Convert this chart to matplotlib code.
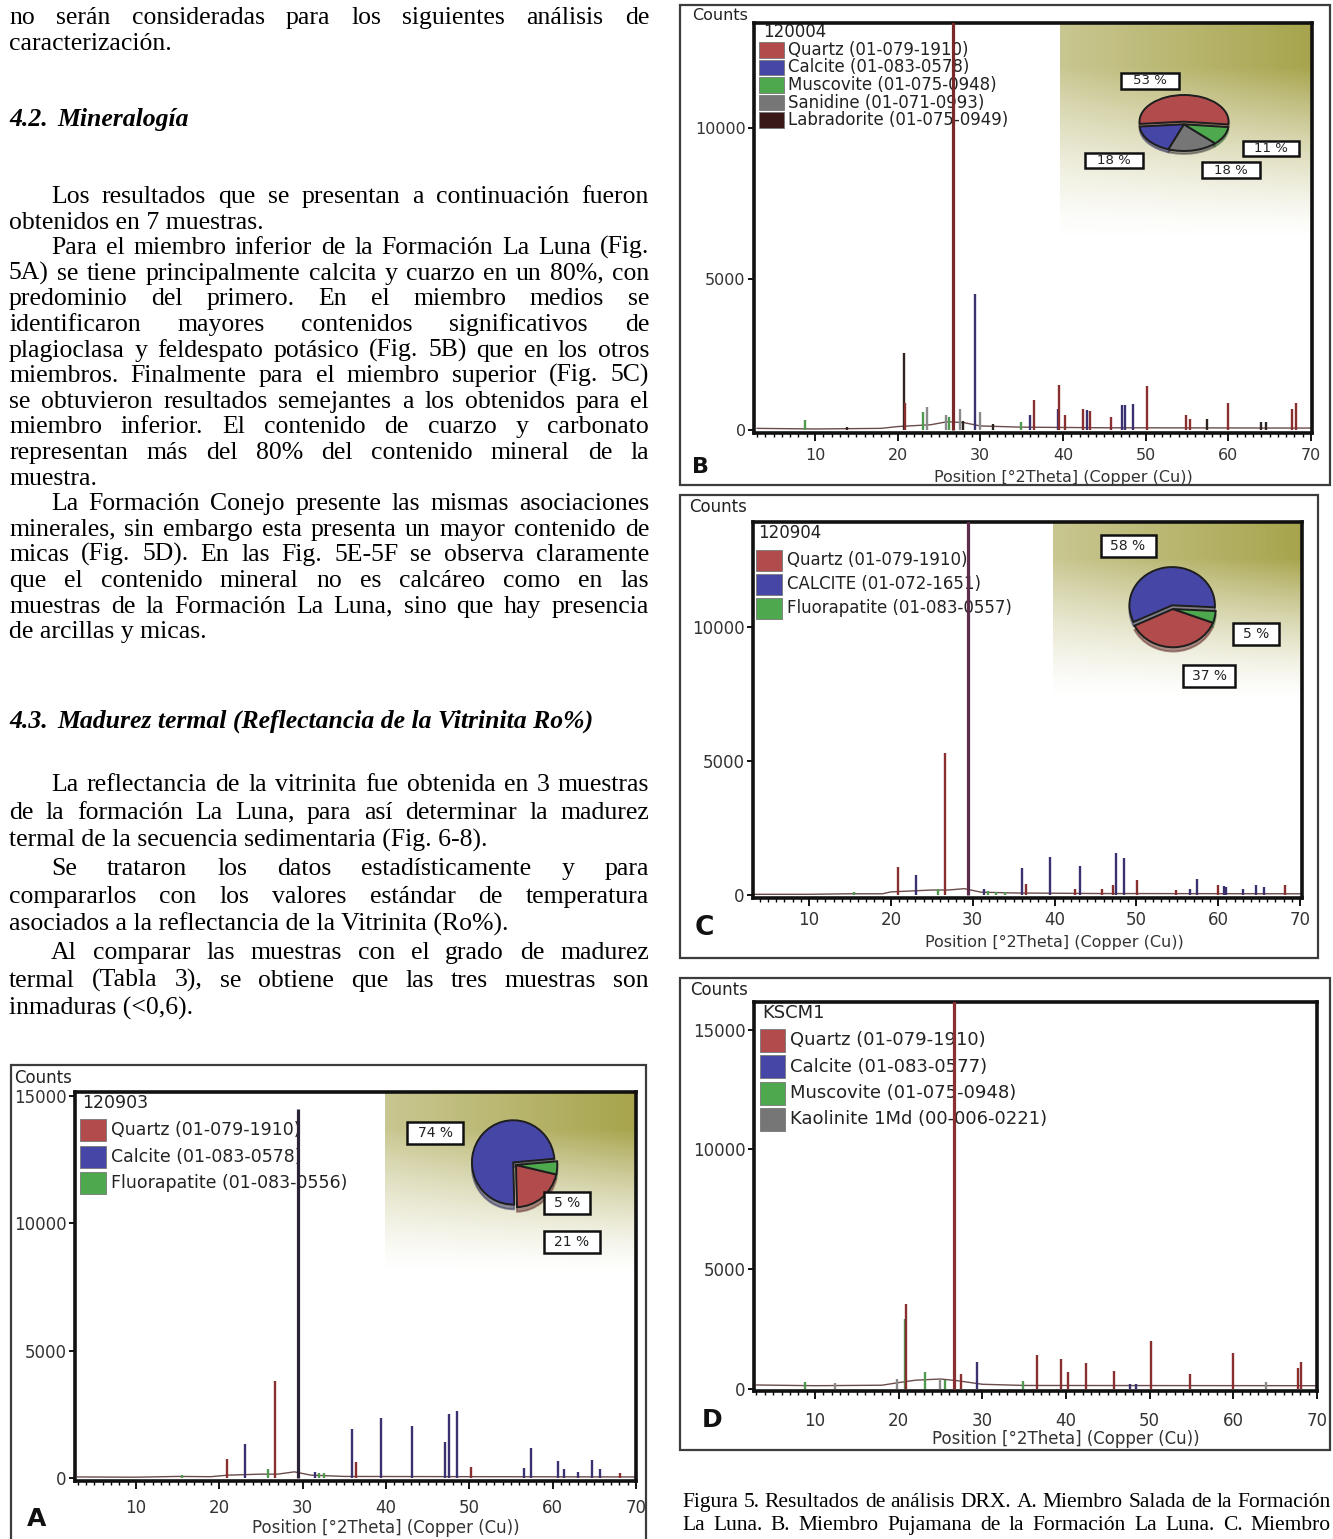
import numpy as np
import matplotlib
matplotlib.use("Agg")
import matplotlib.pyplot as plt
from matplotlib.patches import Rectangle
from matplotlib.ticker import MultipleLocator, FixedLocator, FuncFormatter
from matplotlib.font_manager import FontProperties

W, H = 1333, 1539

# ---------------- colours ----------------
QUARTZ = '#b24c4c'
CALCITE = '#4646a6'
GREEN = '#4ea84e'
GREY = '#767676'
LABRA = '#3b1818'
PEAK = {'q': '#8a2f2f', 'c': '#3a3270', 'g': '#4f9a4f', 'k': '#8a8a8a', 'd': '#2e2420'}

# ---------------- data: panel B (120004) ----------------
b_name = '120004'
b_phases = ['Quartz (01-079-1910)', 'Calcite (01-083-0578)', 'Muscovite (01-075-0948)',
            'Sanidine (01-071-0993)', 'Labradorite (01-075-0949)']
b_colors = [QUARTZ, CALCITE, GREEN, GREY, LABRA]
b_pie = [53, 18, 18, 11]
b_pie_colors = [QUARTZ, CALCITE, GREY, GREEN]
b_q_pos = [20.86, 26.64, 36.54, 39.46, 40.29, 42.45, 43.3, 45.79, 50.14, 54.87, 55.32, 59.96, 67.74, 68.14]
b_q_cnt = [900, 14000, 990, 1500, 500, 715, 630, 440, 1460, 500, 385, 910, 715, 910]
b_c_pos = [29.41, 36.0, 39.4, 42.9, 47.12, 47.51, 48.52]
b_c_cnt = [4500, 500, 700, 660, 825, 825, 850]
b_g_pos = [8.84, 23.1, 26.2, 34.9]
b_g_cnt = [330, 600, 450, 275]
b_k_pos = [23.5, 25.8, 27.5, 29.9]
b_k_cnt = [770, 500, 700, 600]
b_d_pos = [13.9, 20.8, 27.9, 31.5, 57.4, 63.9, 64.5]
b_d_cnt = [110, 2560, 300, 220, 360, 275, 275]
b_base_x = [3, 10, 18, 20, 24, 26, 28, 30, 35, 45, 70]
b_base_y = [60, 40, 60, 120, 180, 280, 250, 140, 100, 80, 70]

# ---------------- data: panel C (120904) ----------------
c_name = '120904'
c_phases = ['Quartz (01-079-1910)', 'CALCITE (01-072-1651)', 'Fluorapatite (01-083-0557)']
c_colors = [QUARTZ, CALCITE, GREEN]
c_pie = [58, 37, 5]
c_pie_colors = [CALCITE, QUARTZ, GREEN]
c_q_pos = [20.86, 26.64, 36.54, 42.45, 45.79, 47.1, 50.14, 54.87, 59.96, 68.14]
c_q_cnt = [1060, 5300, 440, 250, 250, 375, 560, 190, 375, 375]
c_c_pos = [23.06, 29.41, 31.44, 35.97, 39.42, 43.16, 47.51, 48.52, 56.57, 57.41, 60.68, 61.0, 63.08, 64.68, 65.62]
c_c_cnt = [750, 14500, 250, 1025, 1440, 1100, 1560, 1375, 250, 625, 350, 300, 250, 400, 310]
c_g_pos = [15.5, 25.8, 31.9, 32.9, 34.0]
c_g_cnt = [120, 250, 150, 130, 110]
c_base_x = [3, 10, 15, 19, 20, 25, 27, 29, 31, 35, 45, 70]
c_base_y = [40, 40, 60, 60, 130, 200, 200, 250, 120, 90, 70, 60]

# ---------------- data: panel D (KSCM1) ----------------
d_name = 'KSCM1'
d_phases = ['Quartz (01-079-1910)', 'Calcite (01-083-0577)', 'Muscovite (01-075-0948)',
            'Kaolinite 1Md (00-006-0221)']
d_colors = [QUARTZ, CALCITE, GREEN, GREY]
d_q_pos = [20.86, 26.64, 27.45, 36.54, 39.46, 40.29, 42.45, 45.79, 50.14, 54.87, 59.96, 67.74, 68.14]
d_q_cnt = [3550, 17000, 630, 1410, 1240, 700, 1060, 730, 1970, 630, 1480, 845, 1100]
d_c_pos = [29.41, 47.6, 48.4]
d_c_cnt = [1130, 210, 200]
d_g_pos = [8.84, 20.8, 23.1, 25.5, 34.9]
d_g_cnt = [280, 2900, 700, 350, 310]
d_k_pos = [12.4, 19.8, 24.9, 63.9]
d_k_cnt = [240, 420, 420, 280]
d_base_x = [3, 10, 18, 20, 22, 25, 27, 30, 35, 70]
d_base_y = [150, 120, 140, 250, 350, 400, 330, 180, 130, 120]

# ---------------- data: panel A (120903) ----------------
a_name = '120903'
a_phases = ['Quartz (01-079-1910)', 'Calcite (01-083-0578)', 'Fluorapatite (01-083-0556)']
a_colors = [QUARTZ, CALCITE, GREEN]
a_pie = [74, 21, 5]
a_pie_colors = [CALCITE, QUARTZ, GREEN]
a_q_pos = [20.86, 26.64, 36.4, 50.14, 68.1]
a_q_cnt = [780, 3830, 650, 455, 200]
a_c_pos = [23.06, 29.41, 31.44, 35.97, 39.42, 43.16, 47.12, 47.51, 48.52, 56.57, 57.41, 60.68,
           61.35, 63.08, 64.68, 65.62]
a_c_cnt = [1360, 14500, 260, 1950, 2360, 2050, 1430, 2530, 2660, 415, 1195, 675, 390, 235, 740, 390]
a_g_pos = [15.5, 25.8, 31.9, 32.5]
a_g_cnt = [130, 390, 230, 200]
a_base_x = [3, 10, 15, 19, 21, 25, 27, 29, 31, 35, 70]
a_base_y = [60, 50, 80, 70, 130, 170, 170, 260, 130, 80, 60]

XTICKS = [10, 20, 30, 40, 50, 60, 70]
XLABEL = 'Position [°2Theta] (Copper (Cu))'

# ---------------- page text ----------------
body = [
    ('no serán consideradas para los siguientes análisis de', 'j'),
    ('caracterización.', 'l'),
    ('4.2.|Mineralogía', 'h'),
    ('Los resultados que se presentan a continuación fueron', 'ij'),
    ('obtenidos en 7 muestras.', 'l'),
    ('Para el miembro inferior de la Formación La Luna (Fig.', 'ij'),
    ('5A) se tiene principalmente calcita y cuarzo en un 80%, con', 'j'),
    ('predominio del primero. En el miembro medios se', 'j'),
    ('identificaron mayores contenidos significativos de', 'j'),
    ('plagioclasa y feldespato potásico (Fig. 5B) que en los otros', 'j'),
    ('miembros. Finalmente para el miembro superior (Fig. 5C)', 'j'),
    ('se obtuvieron resultados semejantes a los obtenidos para el', 'j'),
    ('miembro inferior. El contenido de cuarzo y carbonato', 'j'),
    ('representan más del 80% del contenido mineral de la', 'j'),
    ('muestra.', 'l'),
    ('La Formación Conejo presente las mismas asociaciones', 'ij'),
    ('minerales, sin embargo esta presenta un mayor contenido de', 'j'),
    ('micas (Fig. 5D). En las Fig. 5E-5F se observa claramente', 'j'),
    ('que el contenido mineral no es calcáreo como en las', 'j'),
    ('muestras de la Formación La Luna, sino que hay presencia', 'j'),
    ('de arcillas y micas.', 'l'),
    ('4.3.|Madurez termal (Reflectancia de la Vitrinita Ro%)', 'h'),
    ('La reflectancia de la vitrinita fue obtenida en 3 muestras', 'ij'),
    ('de la formación La Luna, para así determinar la madurez', 'j'),
    ('termal de la secuencia sedimentaria (Fig. 6-8).', 'l'),
    ('Se trataron los datos estadísticamente y para', 'ij'),
    ('compararlos con los valores estándar de temperatura', 'j'),
    ('asociados a la reflectancia de la Vitrinita (Ro%).', 'l'),
    ('Al comparar las muestras con el grado de madurez', 'ij'),
    ('termal (Tabla 3), se obtiene que las tres muestras son', 'j'),
    ('inmaduras (<0,6).', 'l'),
]
body_y = [16, 42, 118, 195, 221, 246, 272, 297, 323, 349, 374, 400, 425, 451, 477, 502,
          528, 553, 579, 605, 630, 720, 783, 811, 839, 867, 895, 923, 951, 979, 1007]
caption = ['Figura 5. Resultados de análisis DRX. A. Miembro Salada de la Formación',
           'La Luna. B. Miembro Pujamana de la Formación La Luna. C. Miembro']
caption_y = [1501, 1524]

# ---------------- figure ----------------
fig = plt.figure(figsize=(W / 100, H / 100), dpi=100)
fig.patch.set_facecolor('white')
renderer = fig.canvas.get_renderer()


def fx(px):
    return px / W


def fy(py):
    return 1 - py / H


def add_ax_px(left, top, right, bottom):
    return fig.add_axes([left / W, 1 - bottom / H, (right - left) / W, (bottom - top) / H])


def word_w(s, fp):
    w, h, d = renderer.get_text_width_height_descent(s, fp, ismath=False)
    return w


def put_line(s, x0, x1, y, justify, indent, size, style='normal', weight='normal'):
    fp = FontProperties(family='Liberation Serif', size=size, style=style, weight=weight)
    base = y + 0.30 * size * 100 / 72
    kw = dict(fontproperties=fp, va='baseline', ha='left', color='black')
    x = x0 + indent
    words = s.split(' ')
    if not justify or len(words) == 1:
        fig.text(fx(x), fy(base), s, **kw)
        return
    widths = [word_w(w_, fp) for w_ in words]
    gap = (x1 - x - sum(widths)) / (len(words) - 1)
    for w_, ww in zip(words, widths):
        fig.text(fx(x), fy(base), w_, **kw)
        x += ww + gap


# left column text
TX0, TX1, INDENT, TSIZE = 9, 649, 42, 18.5
for (s, kind), y in zip(body, body_y):
    if kind == 'h':
        num, title = s.split('|')
        put_line(num, TX0, TX1, y, False, 0, TSIZE, 'italic', 'bold')
        put_line(title, TX0, TX1, y, False, 48, TSIZE, 'italic', 'bold')
    else:
        put_line(s, TX0, TX1, y, 'j' in kind, INDENT if 'i' in kind else 0, TSIZE)

for s, y in zip(caption, caption_y):
    put_line(s, 682, 1331, y, True, 0, 15.5)


# ---------------- XRD panels ----------------
def olive_gradient(ax, box, g):
    L, T, R, B = box
    gx0, gy0, gx1, gy1 = g
    ny, nx = 120, 80
    t = np.linspace(1, 0, ny)[:, None]
    s = np.linspace(0, 1, nx)[None, :]
    v = np.clip(t * 1.25, 0, 1) ** 1.4
    alpha = v * (0.62 + 0.38 * s)
    img = np.zeros((ny, nx, 4))
    img[..., 0], img[..., 1], img[..., 2] = 0.655, 0.645, 0.30
    img[..., 3] = alpha
    ext = ((gx0 - L) / (R - L), (gx1 - L) / (R - L), (B - gy1) / (B - T), (B - gy0) / (B - T))
    ax.imshow(img, extent=ext, transform=ax.transAxes, aspect='auto', zorder=0,
              interpolation='bilinear')


def draw_panel(g, series, base_x, base_y, name, phases, colors):
    ox0, oy0, ox1, oy1 = g['outer']
    fig.add_artist(Rectangle((fx(ox0), fy(oy1)), (ox1 - ox0) / W, (oy1 - oy0) / H,
                             transform=fig.transFigure, fill=False, ec='#3c3c3c', lw=1.6))
    fig.text(fx(g['counts'][0]), fy(g['counts'][1]), 'Counts', fontsize=g['fs_tick'],
             family='DejaVu Sans', va='center', ha='left', color='#222222')
    fig.text(fx(g['letter'][0]), fy(g['letter'][1]), g['label'], fontsize=g['fs_letter'],
             family='DejaVu Sans', weight='bold', va='center', ha='center', color='#111111')
    fig.text(fx((g['x10'] + g['x70']) / 2), fy(g['xlab_y']), XLABEL, fontsize=g['fs_xlab'],
             family='DejaVu Sans', va='center', ha='center', color='#333333')

    L, T, R, B = g['inner']
    ax = add_ax_px(L, T, R, B)
    ax.set_zorder(2)
    per = (g['x70'] - g['x10']) / 60
    xlo = 10 - (g['x10'] - L) / per
    xhi = 70 + (R - g['x70']) / per
    cpp = 5000 / g['ystep']
    ylo = -(B - g['y0']) * cpp - 60
    yhi = (g['y0'] - T) * cpp

    if g.get('grad'):
        olive_gradient(ax, g['inner'], g['grad'])

    ax.plot(base_x, base_y, color='#6b4b4b', lw=1.0, zorder=2)
    top = max(max(cnt) for _, cnt, _ in series)
    for pos, cnt, key in series:
        for p, c in zip(pos, cnt):
            if c == top:
                ax.vlines(p, 0, c, colors=g['main_color'], lw=2.3, zorder=3.5)
            else:
                ax.vlines(p, 0, c, colors=PEAK[key], lw=1.7, zorder=3)

    ax.set_xlim(xlo, xhi)
    ax.set_ylim(ylo, yhi)
    ax.xaxis.set_major_locator(FixedLocator(XTICKS))
    ax.xaxis.set_minor_locator(MultipleLocator(1))
    ax.yaxis.set_major_locator(MultipleLocator(5000))
    ax.yaxis.set_major_formatter(FuncFormatter(lambda v, p: f'{int(v)}'))
    ax.tick_params(axis='x', which='major', length=6, width=1.3, direction='out',
                   pad=g['xpad'], labelsize=g['fs_tick'], labelcolor='#333333')
    ax.tick_params(axis='x', which='minor', length=3, width=1.0, direction='out')
    ax.tick_params(axis='y', which='major', length=4, width=1.3, direction='out', pad=2,
                   labelsize=g['fs_tick'], labelcolor='#333333')
    for lab in ax.get_xticklabels() + ax.get_yticklabels():
        lab.set_family('DejaVu Sans')
    for sp in ax.spines.values():
        sp.set_linewidth(2.6)
        sp.set_color('#111111')

    # legend
    def ax_xy(x, y):
        return (x - L) / (R - L), (B - y) / (B - T)

    nx_, ny_ = ax_xy(*g['name_xy'])
    ax.text(nx_, ny_, name, transform=ax.transAxes, fontsize=g['fs_leg'], family='DejaVu Sans',
            va='center', ha='left', color='#222222', zorder=2.5)
    px0, pw, ph, tx = g['patch']
    for i, (ph_name, col) in enumerate(zip(phases, colors)):
        yy = g['row0'] + i * g['rowstep']
        ax0, ay0 = ax_xy(px0, yy + ph / 2)
        ax.add_patch(Rectangle((ax0, ay0), pw / (R - L), ph / (B - T), transform=ax.transAxes,
                               fc=col, ec='#777777', lw=0.6, zorder=2.5))
        tx_, ty_ = ax_xy(tx, yy)
        ax.text(tx_, ty_, ph_name, transform=ax.transAxes, fontsize=g['fs_leg'],
                family='DejaVu Sans', va='center', ha='left', color='#222222', zorder=2.5)
    return ax


def draw_pie(p, values, colors, labels_xy):
    cx, cy, rx, ry = p['center'][0], p['center'][1], p['rx'], p['ry']
    pax = add_ax_px(cx - rx, cy - ry, cx + rx, cy + ry)
    pax.set_zorder(4)
    explode = [p['explode'] if i == p['out'] else 0 for i in range(len(values))]
    pax.pie(values, colors=colors, startangle=p['start'], explode=explode,
            wedgeprops=dict(edgecolor='#1e1e1e', linewidth=1.4),
            shadow={'ox': 0.0, 'oy': -0.08, 'shade': 0.45})
    lim = 1 + p['explode']
    pax.set_aspect('auto')
    pax.set_xlim(-lim, lim)
    pax.set_ylim(-lim - 0.05, lim)
    pax.axis('off')
    for (x, y, bw, bh), v in zip(labels_xy, p['label_vals']):
        fig.add_artist(Rectangle((fx(x - bw / 2), fy(y + bh / 2)), bw / W, bh / H,
                                 transform=fig.transFigure, fc='white', ec='#111111',
                                 lw=1.8, zorder=6))
        fig.text(fx(x), fy(y), f'{v} %', fontsize=p['fs'], family='DejaVu Sans',
                 va='center', ha='center', color='#222222', zorder=7)


geoB = dict(outer=(680, 5, 1330, 485), inner=(754, 23, 1312, 433), x10=815, x70=1311,
            y0=432, ystep=152, counts=(692, 16), letter=(700, 467), label='B', xlab_y=477,
            xpad=5, fs_tick=11.5, fs_xlab=11.5, fs_letter=16, fs_leg=12, name_xy=(763, 32),
            row0=50, rowstep=17.5, patch=(759, 25, 15, 788), grad=(1060, 23, 1312, 240),
            main_color='#7a2828')
geoC = dict(outer=(680, 495, 1318, 958), inner=(753, 522, 1302, 898), x10=809, x70=1300,
            y0=897, ystep=135, counts=(689, 507), letter=(704, 928), label='C', xlab_y=942,
            xpad=3.5, fs_tick=12, fs_xlab=11.5, fs_letter=19, fs_leg=12, name_xy=(758, 533),
            row0=560, rowstep=24, patch=(756, 26, 21, 787), grad=(1053, 522, 1302, 700),
            main_color='#5c2c4c')
geoD = dict(outer=(680, 978, 1330, 1450), inner=(754, 1002, 1317, 1391), x10=815, x70=1317,
            y0=1390, ystep=120, counts=(690, 990), letter=(712, 1420), label='D', xlab_y=1439,
            xpad=9, fs_tick=12, fs_xlab=12, fs_letter=18, fs_leg=13, name_xy=(762, 1013),
            row0=1040, rowstep=26.5, patch=(760, 25, 23, 790), grad=None,
            main_color='#8a3030')
geoA = dict(outer=(11, 1065, 646, 1570), inner=(75, 1092, 636, 1481), x10=136, x70=636,
            y0=1480, ystep=128, counts=(14, 1078), letter=(37, 1519), label='A', xlab_y=1528,
            xpad=7, fs_tick=12, fs_xlab=12, fs_letter=18, fs_leg=12.5, name_xy=(82, 1103),
            row0=1130, rowstep=26.5, patch=(80, 26, 22, 111), grad=(385, 1092, 636, 1275),
            main_color='#2e2235')

draw_panel(geoB, [(b_k_pos, b_k_cnt, 'k'), (b_g_pos, b_g_cnt, 'g'), (b_d_pos, b_d_cnt, 'd'),
                  (b_c_pos, b_c_cnt, 'c'), (b_q_pos, b_q_cnt, 'q')],
           b_base_x, b_base_y, b_name, b_phases, b_colors)
draw_pie(dict(center=(1184, 125), rx=49, ry=30, start=-6, out=0, explode=0.1, fs=9.5,
              label_vals=[b_pie[0], b_pie[3], b_pie[1], b_pie[2]]),
         b_pie, b_pie_colors,
         [(1150, 81, 58, 16), (1271, 148, 56, 15), (1114, 160, 58, 15), (1231, 170, 58, 15)])

draw_panel(geoC, [(c_g_pos, c_g_cnt, 'g'), (c_q_pos, c_q_cnt, 'q'), (c_c_pos, c_c_cnt, 'c')],
           c_base_x, c_base_y, c_name, c_phases, c_colors)
draw_pie(dict(center=(1173, 610), rx=47, ry=43, start=-3, out=0, explode=0.1, fs=10,
              label_vals=[c_pie[0], c_pie[2], c_pie[1]]),
         c_pie, c_pie_colors,
         [(1128, 546, 55, 22), (1256, 634, 46, 22), (1209, 676, 52, 22)])

draw_panel(geoD, [(d_k_pos, d_k_cnt, 'k'), (d_g_pos, d_g_cnt, 'g'), (d_c_pos, d_c_cnt, 'c'),
                  (d_q_pos, d_q_cnt, 'q')],
           d_base_x, d_base_y, d_name, d_phases, d_colors)

draw_panel(geoA, [(a_g_pos, a_g_cnt, 'g'), (a_q_pos, a_q_cnt, 'q'), (a_c_pos, a_c_cnt, 'c')],
           a_base_x, a_base_y, a_name, a_phases, a_colors)
draw_pie(dict(center=(516, 1166), rx=45, ry=47, start=5, out=0, explode=0.09, fs=10,
              label_vals=[a_pie[0], a_pie[2], a_pie[1]]),
         a_pie, a_pie_colors,
         [(435, 1133, 56, 22), (567, 1203, 46, 22), (572, 1242, 56, 22)])

fig.savefig('out.png', dpi=100, facecolor='white')
